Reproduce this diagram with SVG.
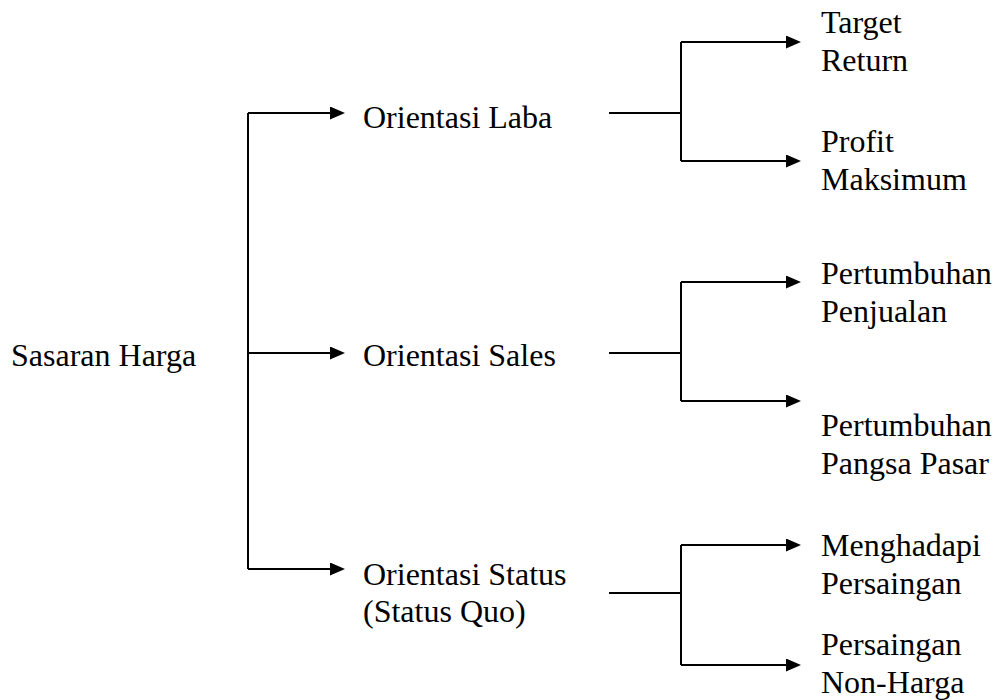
<svg xmlns="http://www.w3.org/2000/svg" width="995" height="700" viewBox="0 0 995 700">
<defs>
<marker id="ah" markerUnits="userSpaceOnUse" viewBox="0 0 15 13" refX="1" refY="6.5" markerWidth="15" markerHeight="13" orient="auto">
<path d="M0,0 L15,6.5 L0,13 Z" fill="#000"/>
</marker>
</defs>
<rect width="995" height="700" fill="#fff"/>
<g id="connectors" fill="none" stroke="#000" stroke-width="2">
<path d="M248,113 V569"/>
<path d="M248,113 H331" marker-end="url(#ah)"/>
<path d="M248,353 H331" marker-end="url(#ah)"/>
<path d="M248,569 H331" marker-end="url(#ah)"/>
<path d="M609,113 H681 M681,42 V161"/>
<path d="M681,42 H787" marker-end="url(#ah)"/>
<path d="M681,161 H787" marker-end="url(#ah)"/>
<path d="M609,353 H681 M681,282 V401"/>
<path d="M681,282 H787" marker-end="url(#ah)"/>
<path d="M681,401 H787" marker-end="url(#ah)"/>
<path d="M609,593 H681 M681,545 V665"/>
<path d="M681,545 H787" marker-end="url(#ah)"/>
<path d="M681,665 H787" marker-end="url(#ah)"/>
</g>
<g id="root"><text style="font-family:'Times New Roman','Liberation Serif',serif;font-size:32px" x="11" y="366">Sasaran Harga</text></g>
<g id="laba"><text style="font-family:'Times New Roman','Liberation Serif',serif;font-size:32px" x="363" y="128">Orientasi Laba</text></g>
<g id="sales"><text style="font-family:'Times New Roman','Liberation Serif',serif;font-size:32px" x="363" y="366">Orientasi Sales</text></g>
<g id="status"><text style="font-family:'Times New Roman','Liberation Serif',serif;font-size:32px" x="363" y="585">Orientasi Status</text><text style="font-family:'Times New Roman','Liberation Serif',serif;font-size:32px" x="363" y="622">(Status Quo)</text></g>
<g id="target"><text style="font-family:'Times New Roman','Liberation Serif',serif;font-size:32px" x="821" y="33">Target</text><text style="font-family:'Times New Roman','Liberation Serif',serif;font-size:32px" x="821" y="71">Return</text></g>
<g id="profit"><text style="font-family:'Times New Roman','Liberation Serif',serif;font-size:32px" x="821" y="152">Profit</text><text style="font-family:'Times New Roman','Liberation Serif',serif;font-size:32px" x="821" y="190">Maksimum</text></g>
<g id="penjualan"><text style="font-family:'Times New Roman','Liberation Serif',serif;font-size:32px" x="821" y="284">Pertumbuhan</text><text style="font-family:'Times New Roman','Liberation Serif',serif;font-size:32px" x="821" y="322">Penjualan</text></g>
<g id="pangsa"><text style="font-family:'Times New Roman','Liberation Serif',serif;font-size:32px" x="821" y="436">Pertumbuhan</text><text style="font-family:'Times New Roman','Liberation Serif',serif;font-size:32px" x="821" y="474">Pangsa Pasar</text></g>
<g id="menghadapi"><text style="font-family:'Times New Roman','Liberation Serif',serif;font-size:32px" x="821" y="556">Menghadapi</text><text style="font-family:'Times New Roman','Liberation Serif',serif;font-size:32px" x="821" y="594">Persaingan</text></g>
<g id="nonharga"><text style="font-family:'Times New Roman','Liberation Serif',serif;font-size:32px" x="821" y="655">Persaingan</text><text style="font-family:'Times New Roman','Liberation Serif',serif;font-size:32px" x="821" y="693">Non-Harga</text></g>
</svg>
